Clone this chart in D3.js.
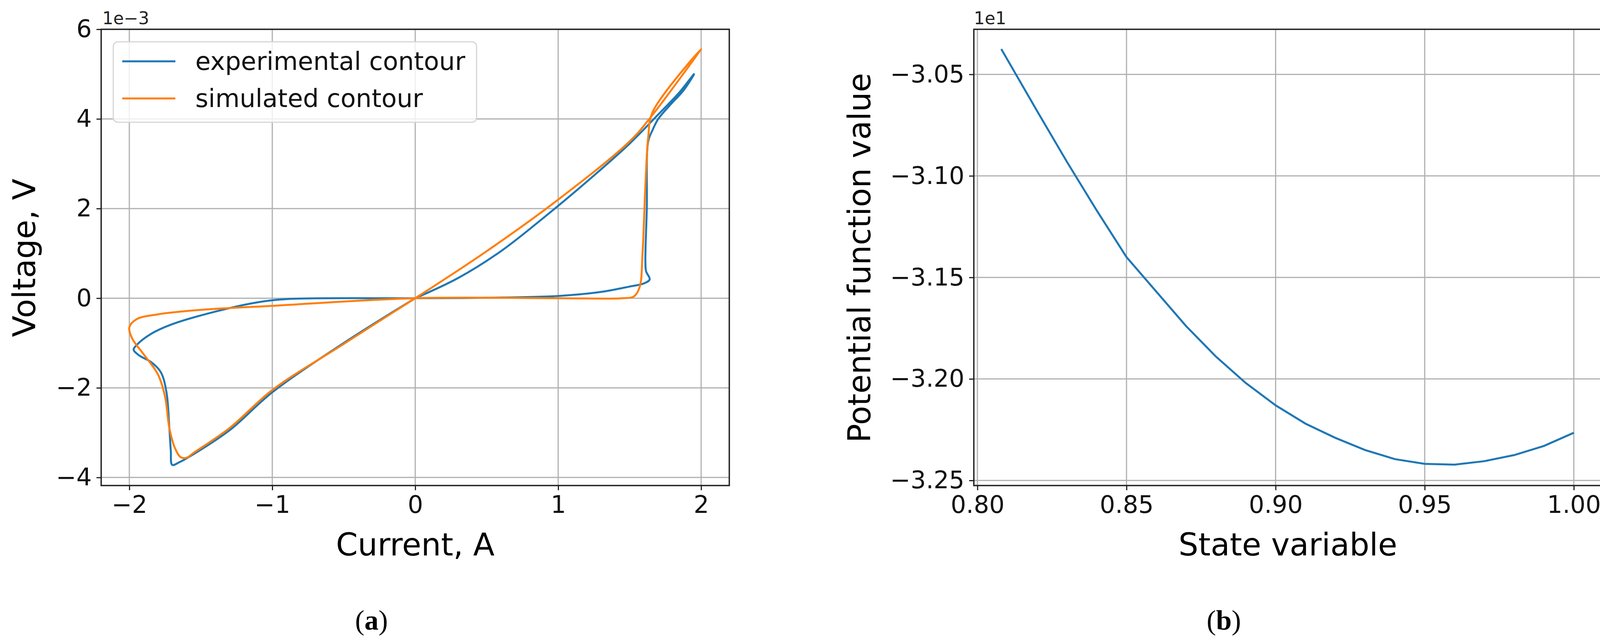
<!DOCTYPE html>
<html>
<head>
<meta charset="utf-8">
<script src="https://cdn.jsdelivr.net/npm/d3@7"></script>
<style>
  body { margin: 0; background: #fff; }
  text { font-family: "DejaVu Sans", sans-serif; }
</style>
</head>
<body>
<div id="container"></div>
<script>
/* DATA */
// (a) hysteresis loops, current A vs voltage (x1e-3 V)
const expCurrent = [0, 0.3, 0.6, 0.9, 1.2, 1.5, 1.7, 1.85, 1.95, 1.88, 1.78, 1.7, 1.66, 1.63, 1.62, 1.61, 1.615, 1.64, 1.6, 1.5, 1.3, 1.0, 0.5, 0,
  -0.9, -1.1, -1.4, -1.7, -1.85, -1.95, -1.97, -1.93, -1.85, -1.78, -1.74, -1.72, -1.71, -1.7, -1.65, -1.55, -1.3, -1.0, -0.5, 0];
const expVoltage = [0, 0.45, 1.05, 1.8, 2.6, 3.45, 4.1, 4.6, 5.0, 4.65, 4.3, 4.0, 3.75, 3.5, 2.0, 0.8, 0.6, 0.42, 0.33, 0.26, 0.14, 0.05, 0.01, 0,
  -0.02, -0.09, -0.3, -0.58, -0.8, -1.05, -1.15, -1.28, -1.42, -1.65, -2.1, -2.9, -3.4, -3.72, -3.66, -3.48, -2.95, -2.1, -1.0, 0];
const simCurrent = [0, 0.5, 1.0, 1.5, 1.65, 2.0, 1.66, 1.63, 1.61, 1.59, 1.57, 1.53, 1.45, 1.0, 0,
  -1.0, -1.5, -1.8, -1.95, -2.0, -1.98, -1.9, -1.8, -1.75, -1.72, -1.68, -1.64, -1.6, -1.55, -1.3, -1.0, -0.5, 0];
const simVoltage = [0, 1.05, 2.2, 3.5, 4.05, 5.56, 4.15, 3.6, 2.5, 1.0, 0.25, 0.04, 0.0, 0.0, 0,
  -0.17, -0.26, -0.36, -0.47, -0.65, -0.9, -1.25, -1.7, -2.2, -2.9, -3.35, -3.55, -3.56, -3.45, -2.9, -2.05, -1.02, 0];
const xTicksA = [-2, -1, 0, 1, 2];
const yTicksA = [-4, -2, 0, 2, 4, 6];
const legendLabels = ["experimental contour", "simulated contour"];

// (b) potential function (x1e1)
const stateVar = [0.808, 0.82, 0.83, 0.84, 0.85, 0.86, 0.87, 0.88, 0.89, 0.90, 0.91, 0.92, 0.93, 0.94, 0.95, 0.96, 0.97, 0.98, 0.99, 1.00];
const potential = [-3.0375, -3.068, -3.093, -3.117, -3.140, -3.157, -3.174, -3.189, -3.202, -3.213, -3.222, -3.229, -3.235, -3.2395, -3.2418, -3.2422, -3.2405, -3.2375, -3.233, -3.2265];
const xTicksB = [0.80, 0.85, 0.90, 0.95, 1.00];
const yTicksB = [-3.25, -3.20, -3.15, -3.10, -3.05];

const blue = "#1f77b4", orange = "#ff7f0e";
const svg = d3.select("#container").append("svg").attr("width", 4128).attr("height", 1641);

function panel(box, xDom, yDom, xTicks, yTicks, xFmt, yFmt) {
  const x = d3.scaleLinear().domain(xDom).range([box.l, box.r]);
  const y = d3.scaleLinear().domain(yDom).range([box.b, box.t]);
  const g = svg.append("g");
  // grid
  g.selectAll(".gx").data(xTicks).join("line")
    .attr("x1", d => x(d)).attr("x2", d => x(d)).attr("y1", box.t).attr("y2", box.b)
    .attr("stroke", "#b0b0b0").attr("stroke-width", 3);
  g.selectAll(".gy").data(yTicks).join("line")
    .attr("y1", d => y(d)).attr("y2", d => y(d)).attr("x1", box.l).attr("x2", box.r)
    .attr("stroke", "#b0b0b0").attr("stroke-width", 3);
  const ax = g.append("g").attr("transform", `translate(0,${box.b})`)
    .call(d3.axisBottom(x).tickValues(xTicks).tickFormat(xFmt).tickSize(12).tickPadding(14).tickSizeOuter(0));
  const ay = g.append("g").attr("transform", `translate(${box.l},0)`)
    .call(d3.axisLeft(y).tickValues(yTicks).tickFormat(yFmt).tickSize(12).tickPadding(12).tickSizeOuter(0));
  [ax, ay].forEach(a => {
    a.select(".domain").remove();
    a.selectAll("line").attr("stroke", "#222").attr("stroke-width", 3);
    a.selectAll("text").attr("font-size", 62).attr("fill", "#111").style("font-family", "DejaVu Sans");
  });
  g.append("rect").attr("x", box.l).attr("y", box.t).attr("width", box.r - box.l).attr("height", box.b - box.t)
    .attr("fill", "none").attr("stroke", "#222").attr("stroke-width", 3.5);
  return { x, y, g };
}

const minus = s => s.replace("-", "\u2212");

/* (a) */
const A = panel({ l: 259, r: 1867, t: 75, b: 1243 }, [-2.197, 2.197], [-4.18, 6.0],
  xTicksA, yTicksA, d => minus(String(d)), d => minus(String(d)));
const lineA = d3.line().x(d => A.x(d[0])).y(d => A.y(d[1])).curve(d3.curveCatmullRom.alpha(0.5));
A.g.append("path").datum(d3.zip(expCurrent, expVoltage)).attr("d", lineA)
  .attr("fill", "none").attr("stroke", blue).attr("stroke-width", 5);
A.g.append("path").datum(d3.zip(simCurrent, simVoltage)).attr("d", lineA)
  .attr("fill", "none").attr("stroke", orange).attr("stroke-width", 5);
svg.append("text").attr("x", 262).attr("y", 62).attr("font-size", 44).attr("fill", "#222").text("1e\u22123");

// legend
const lg = svg.append("g");
lg.append("rect").attr("x", 290).attr("y", 107).attr("width", 930).attr("height", 206).attr("rx", 12)
  .attr("fill", "rgba(255,255,255,0.8)").attr("stroke", "#d6d6d6").attr("stroke-width", 3);
legendLabels.forEach((t, i) => {
  const yy = 157 + i * 95;
  lg.append("line").attr("x1", 313).attr("x2", 449).attr("y1", yy).attr("y2", yy)
    .attr("stroke", i ? orange : blue).attr("stroke-width", 5);
  lg.append("text").attr("x", 500).attr("y", yy + 22).attr("font-size", 64).attr("fill", "#111").text(t);
});

svg.append("text").attr("x", 1063).attr("y", 1422).attr("text-anchor", "middle").attr("font-size", 80).text("Current, A");
svg.append("text").attr("transform", "translate(90,660) rotate(-90)").attr("text-anchor", "middle").attr("font-size", 80).text("Voltage, V");

/* (b) */
const B = panel({ l: 2493, r: 4103, t: 75, b: 1243 }, [0.7988, 1.0097], [-3.2525, -3.0278],
  xTicksB, yTicksB, d3.format(".2f"), d => minus(d3.format(".2f")(d)));
B.g.append("path").datum(d3.zip(stateVar, potential))
  .attr("d", d3.line().x(d => B.x(d[0])).y(d => B.y(d[1])))
  .attr("fill", "none").attr("stroke", blue).attr("stroke-width", 5);
svg.append("text").attr("x", 2493).attr("y", 62).attr("font-size", 44).attr("fill", "#222").text("1e1");
svg.append("text").attr("x", 3297).attr("y", 1422).attr("text-anchor", "middle").attr("font-size", 80).text("State variable");
svg.append("text").attr("transform", "translate(2228,660) rotate(-90)").attr("text-anchor", "middle").attr("font-size", 80).text("Potential function value");

/* captions */
[["a", 951], ["b", 3133]].forEach(([c, cx]) => {
  const t = svg.append("text").attr("x", cx).attr("y", 1612).attr("text-anchor", "middle")
    .attr("font-size", 72).style("font-family", "Liberation Serif, serif");
  t.append("tspan").text("(");
  t.append("tspan").attr("font-weight", "bold").text(c);
  t.append("tspan").text(")");
});
</script>
</body>
</html>
